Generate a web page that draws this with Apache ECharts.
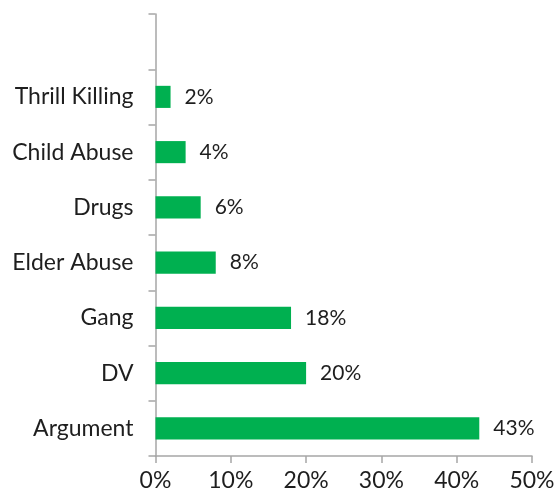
<!DOCTYPE html>
<html>
<head>
<meta charset="utf-8">
<script src="https://cdn.jsdelivr.net/npm/echarts@6/dist/echarts.min.js"></script>
<style>
  html, body { margin: 0; padding: 0; background: #fff; }
  #chart { width: 558px; height: 495px; }
</style>
</head>
<body>
<div id="chart"></div>
<script>
// Motive categories, top to bottom (first slot left blank)
const categories = ['', 'Thrill Killing', 'Child Abuse', 'Drugs', 'Elder Abuse', 'Gang', 'DV', 'Argument'];
// Share of cases, percent
const shares = [null, 2, 4, 6, 8, 18, 20, 43];
// Horizontal axis ticks, percent
const xMin = 0, xMax = 50, xStep = 10;

const font = 'Lato, "Open Sans", sans-serif';
const axisGray = '#a6a6a6';
const textColor = '#1e1e1e';

const chart = echarts.init(document.getElementById('chart'), null, { renderer: 'canvas' });
chart.setOption({
  animation: false,
  grid: { left: 155.5, right: 26, top: 14, bottom: 39, containLabel: false },
  xAxis: {
    type: 'value',
    min: xMin, max: xMax, interval: xStep,
    axisLine: { show: true, lineStyle: { color: axisGray, width: 1.5 } },
    axisTick: { show: true, length: 7, lineStyle: { color: axisGray, width: 1.5 } },
    splitLine: { show: false },
    axisLabel: { formatter: '{value}%', color: textColor, fontFamily: font, fontSize: 23, margin: 13 }
  },
  yAxis: {
    type: 'category',
    inverse: true,
    data: categories,
    axisLine: { show: true, lineStyle: { color: axisGray, width: 1.5 } },
    axisTick: { show: true, length: 7, lineStyle: { color: axisGray, width: 1.5 } },
    axisLabel: { color: textColor, fontFamily: font, fontSize: 23, margin: 22 }
  },
  series: [{
    type: 'bar',
    data: shares,
    barWidth: '40%',
    itemStyle: { color: '#00b050' },
    label: {
      show: true, position: 'right', distance: 14,
      formatter: p => p.value + '%',
      color: textColor, fontFamily: font, fontSize: 21
    }
  }]
});
</script>
</body>
</html>
